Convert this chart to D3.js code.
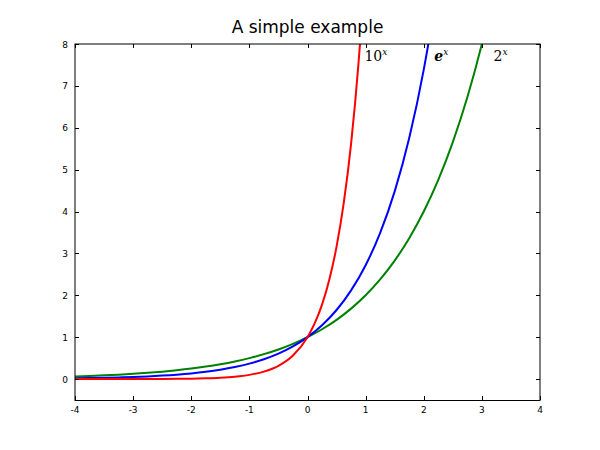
<!DOCTYPE html>
<html><head><meta charset="utf-8">
<script src="https://cdn.jsdelivr.net/npm/d3@7"></script>
<style>body{margin:0;background:#fff}</style>
</head><body>
<svg id="c" width="600" height="450"></svg>
<script>
const xs = [-4,-3.75,-3.5,-3.25,-3,-2.75,-2.5,-2.25,-2,-1.75,-1.5,-1.25,-1,-0.75,-0.5,-0.25,0,0.25,0.5,0.75,1,1.25,1.5,1.75,2,2.25,2.5,2.75,3,3.25,3.5,3.75,4];
const pow2 = [0.0625,0.0743,0.0884,0.1051,0.125,0.1487,0.1768,0.2102,0.25,0.2973,0.3536,0.4204,0.5,0.5946,0.7071,0.8409,1,1.1892,1.4142,1.6818,2,2.3784,2.8284,3.3636,4,4.7568,5.6569,6.7272,8,9.5137,11.3137,13.4543,16];
const expE = [0.0183,0.0235,0.0302,0.0388,0.0498,0.0639,0.0821,0.1054,0.1353,0.1738,0.2231,0.2865,0.3679,0.4724,0.6065,0.7788,1,1.284,1.6487,2.117,2.7183,3.4903,4.4817,5.7546,7.3891,9.4877,12.1825,15.6426,20.0855,25.79,33.12,42.52,54.6];
const xs10 = [-4,-3.75,-3.5,-3.25,-3,-2.75,-2.5,-2.25,-2,-1.75,-1.5,-1.25,-1,-0.75,-0.5,-0.25,0,0.125,0.25,0.375,0.5,0.625,0.75,0.875,1,1.125,1.25];
const pow10 = [0.0001,0.00018,0.00032,0.00056,0.001,0.00178,0.00316,0.00562,0.01,0.0178,0.0316,0.0562,0.1,0.1778,0.3162,0.5623,1,1.3335,1.7783,2.3714,3.1623,4.217,5.6234,7.4989,10,13.335,17.783];
const xTicks = [-4,-3,-2,-1,0,1,2,3,4];
const yTicks = [0,1,2,3,4,5,6,7,8];
const title = "A simple example";

const svg = d3.select("#c");
const L=75, R=540, T=44, B=400;
const x = d3.scaleLinear().domain([-4,4]).range([L,R]);
const y = d3.scaleLinear().domain([-0.5,8]).range([B,T]);

svg.append("defs").append("clipPath").attr("id","clip")
  .append("rect").attr("x",L).attr("y",T).attr("width",R-L).attr("height",B-T);

const line = d3.line().x(d=>x(d[0])).y(d=>y(d[1])).curve(d3.curveMonotoneX);
const series = [
  {xs:xs, ys:pow2, color:"#008000"},
  {xs:xs, ys:expE, color:"#0000ff"},
  {xs:xs10, ys:pow10, color:"#ff0000"}
];
const g = svg.append("g").attr("clip-path","url(#clip)");
series.forEach(s=>{
  g.append("path").datum(s.xs.map((v,i)=>[v,s.ys[i]]))
   .attr("d",line).attr("fill","none").attr("stroke",s.color).attr("stroke-width",2);
});

// frame
svg.append("rect").attr("x",L).attr("y",T).attr("width",R-L).attr("height",B-T+0.5)
  .attr("fill","none").attr("stroke","#000").attr("stroke-width",1);

// ticks inside, mirrored
const tk = svg.append("g").attr("stroke","#000").attr("stroke-width",1);
xTicks.forEach(t=>{
  const px = Math.round(x(t))+0.5;
  tk.append("line").attr("x1",px).attr("x2",px).attr("y1",B).attr("y2",B-4);
  tk.append("line").attr("x1",px).attr("x2",px).attr("y1",T).attr("y2",T+4);
});
yTicks.forEach(t=>{
  const py = Math.round(y(t))+0.5;
  tk.append("line").attr("x1",L).attr("x2",L+4).attr("y1",py).attr("y2",py);
  tk.append("line").attr("x1",R).attr("x2",R-4).attr("y1",py).attr("y2",py);
});
const font = "DejaVu Sans, sans-serif";
svg.append("g").selectAll("text").data(xTicks).join("text")
  .attr("x",d=>x(d)).attr("y",B+13).attr("text-anchor","middle")
  .attr("font-family",font).attr("font-size",9).text(d=>d<0?"-"+Math.abs(d):d);
svg.append("g").selectAll("text").data(yTicks).join("text")
  .attr("x",L-7).attr("y",d=>y(d)+3.5).attr("text-anchor","end")
  .attr("font-family",font).attr("font-size",9).text(d=>d);

svg.append("text").attr("x",(L+R)/2).attr("y",33).attr("text-anchor","middle")
  .attr("font-family",font).attr("font-size",17).text(title);

// curve labels
const labels = [
  {x:0.98, y:7.6, base:"10", bi:false},
  {x:2.18, y:7.6, base:"e", bi:true},
  {x:3.2, y:7.6, base:"2", bi:false}
];
labels.forEach(l=>{
  const t = svg.append("text").attr("x",x(l.x)).attr("y",y(l.y))
    .attr("font-family","DejaVu Serif, serif").attr("font-size",14);
  t.append("tspan").attr("font-style",l.bi?"italic":"normal").attr("font-weight",l.bi?"bold":"normal").text(l.base);
  t.append("tspan").attr("font-style","italic").attr("font-size",9).attr("dy",-6).text("x");
});
</script>
</body></html>
